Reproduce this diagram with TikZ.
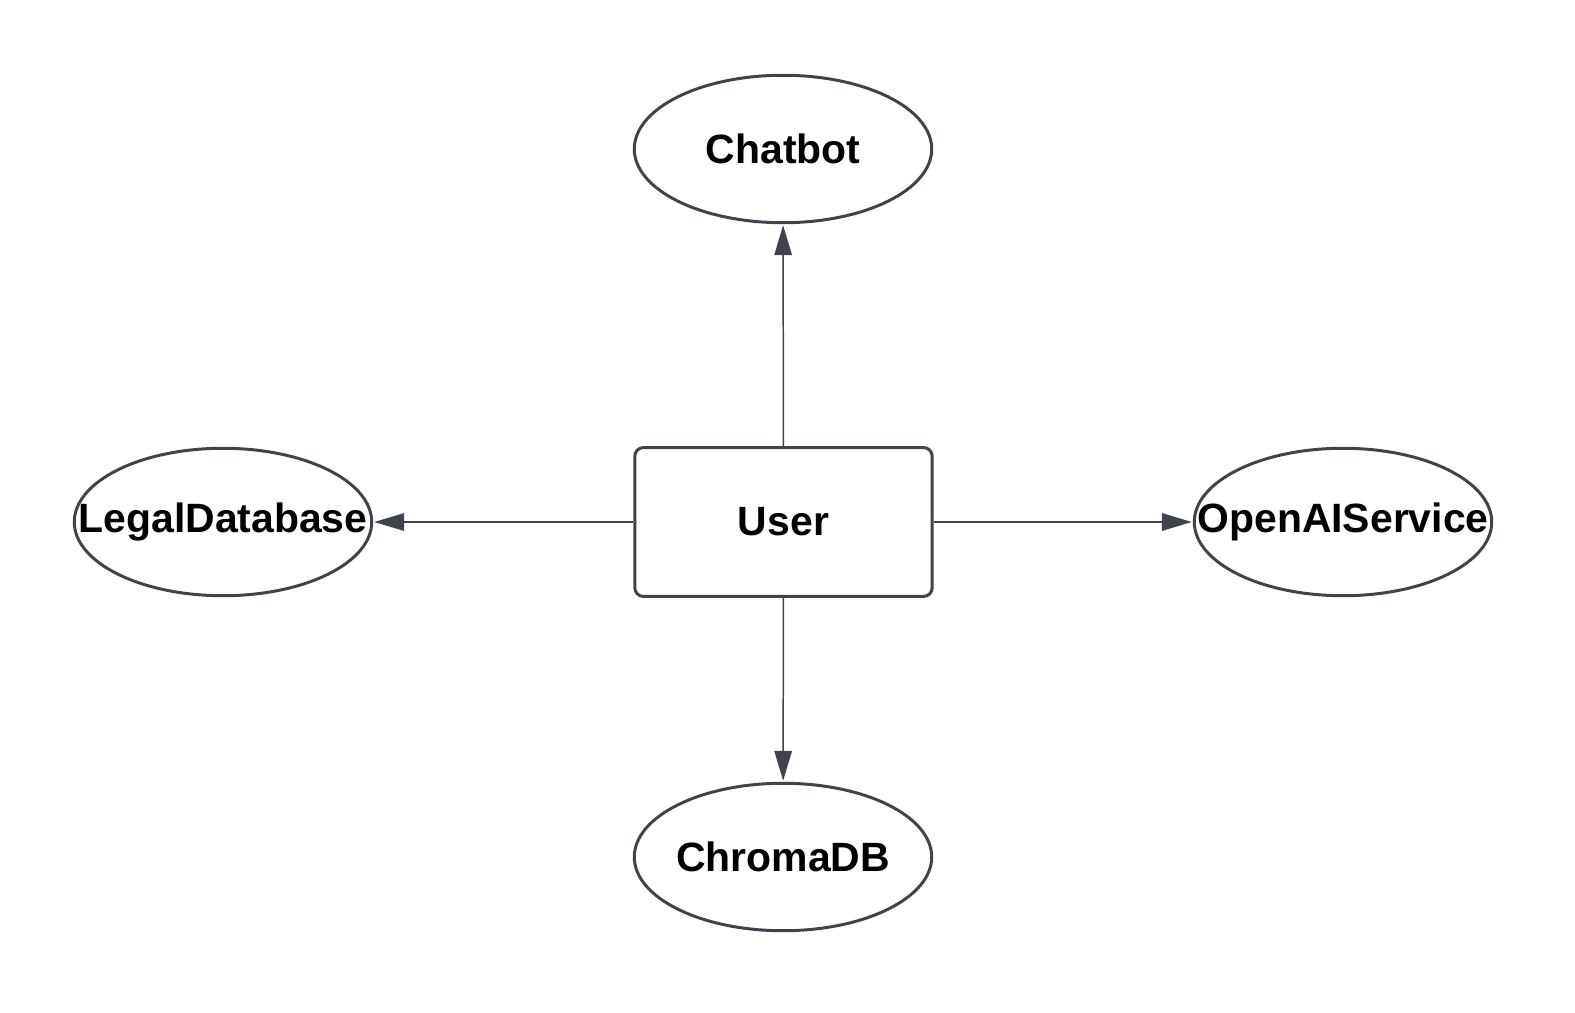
\documentclass[tikz,border=0pt]{standalone}
\usepackage{fontspec}
\setmainfont{Liberation Sans}
\usetikzlibrary{shapes.geometric,arrows.meta}
\definecolor{edge}{HTML}{3F444C}
\newcommand\zwtext[1]{\makebox[0pt]{#1}}
\tikzset{
  ell/.style={ellipse, draw=edge, line width=1.7pt, minimum width=5.95cm, minimum height=2.95cm, inner sep=0pt, font=\fontsize{23.3}{26}\selectfont\bfseries},
  boxnode/.style={rectangle, rounded corners=5pt, draw=edge, line width=1.7pt, minimum width=5.95cm, minimum height=2.98cm, inner sep=0pt, font=\fontsize{23.3}{26}\selectfont\bfseries},
  conn/.style={draw=edge, line width=0.85pt, -{Triangle[length=17pt,width=10pt]}, shorten >=0.6pt}
}
\begin{document}
\begin{tikzpicture}[x=0.02cm,y=-0.02cm]
\useasboundingbox (0,0) rectangle (1575,1013);
\node[ell] (chat) at (783,149) {\zwtext{Chatbot}};
\node[boxnode] (user) at (783.5,522) {User};
\node[ell] (legal) at (223,522) {\zwtext{LegalDatabase}};
\node[ell] (openai) at (1343,522) {\zwtext{OpenAIService}};
\node[ell] (chroma) at (783,857) {\zwtext{ChromaDB}};
\draw[conn] (user) -- (chat);
\draw[conn] (user) -- (legal);
\draw[conn] (user) -- (openai);
\draw[conn] (user) -- (chroma);
\end{tikzpicture}
\end{document}
